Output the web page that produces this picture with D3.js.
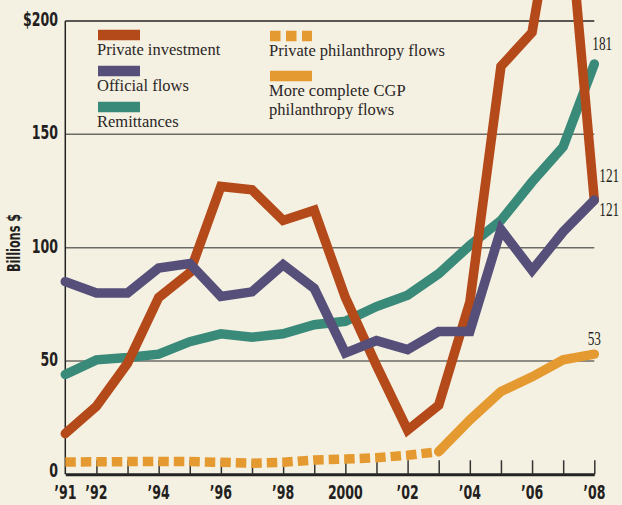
<!DOCTYPE html>
<html>
<head>
<meta charset="utf-8">
<script src="https://cdn.jsdelivr.net/npm/d3@7"></script>
<style>
  body { margin: 0; background: #f5f1e2; }
  svg { display: block; }
</style>
</head>
<body>
<div id="grafica"></div>
<script>
// datos (miles de millones de dolares)
years = [1991, 1992, 1993, 1994, 1995, 1996, 1997, 1998, 1999, 2000, 2001, 2002, 2003, 2004, 2005, 2006, 2007, 2008]
privateInvestment = [18, 30, 49, 78, 89, 127, 125.5, 112, 116.5, 78, 48, 19.5, 30.5, 76, 180, 195, 275, 121]
officialFlows = [85, 80, 80, 91, 93, 78.5, 80.5, 92.5, 82, 53.5, 59, 55, 63, 63, 108, 90, 107, 121]
remittances = [44, 50.5, 51.5, 53, 58.5, 62, 60.5, 62, 66, 67.5, 74, 79, 88.5, 101, 112, 129, 144.5, 181]
philanthropyYears = [1991, 1992, 1993, 1994, 1995, 1996, 1997, 1998, 1999, 2000, 2001, 2002, 2003]
privatePhilanthropy = [5.4, 5.5, 5.6, 5.7, 5.6, 5.3, 4.9, 5.3, 6.3, 6.7, 7.3, 8.4, 10]
cgpYears = [2003, 2004, 2005, 2006, 2007, 2008]
cgpPhilanthropy = [10, 24, 36.5, 43, 50.5, 53]

yTicks = [0, 50, 100, 150, 200]
xLabels = { 1991: '’91', 1992: '’92', 1994: '’94', 1996: '’96', 1998: '’98', 2000: '2000', 2002: '’02', 2004: '’04', 2006: '’06', 2008: '’08' }
legendNames = ['Private investment', 'Official flows', 'Remittances', 'Private philanthropy flows', ['More complete CGP', 'philanthropy flows']]
endLabels = [
  { serie: 'remittances', value: 181, text: '181' },
  { serie: 'private', value: 121, text: '121' },
  { serie: 'official', value: 121, text: '121' },
  { serie: 'cgp', value: 53, text: '53' }
]

colores = { private: '#b4491a', official: '#564f7a', remittances: '#3a8a79', philanthropy: '#e49a30' }
sansCond = "'Liberation Sans Narrow', 'DejaVu Sans Condensed', 'Liberation Sans', Arial, sans-serif"
serif = "'Liberation Serif', 'DejaVu Serif', serif"

ancho_total = 622
alto_total = 505

svg = d3
        .select('#grafica')
        .append('svg')
        .attr('width', ancho_total)
        .attr('height', alto_total)

x = d3.scaleLinear().domain([1991, 2008]).range([65.3, 594.3])
y = d3.scaleLinear().domain([0, 200]).range([474.3, 21])

// factor para estrechar la letra sin serifa (no hay fuente condensada segura)
prueba = svg.append('text')
            .attr('font-family', sansCond)
            .attr('font-weight', 'bold')
            .attr('font-size', '19px')
            .text('2000')
k = 35 / prueba.node().getComputedTextLength()
prueba.remove()

// rejilla horizontal
grid = svg.append('g')
grid.selectAll('line')
    .data(yTicks.filter((d) => d > 0))
    .enter()
    .append('line')
      .attr('x1', x(1991))
      .attr('x2', x(2008))
      .attr('y1', (d) => y(d))
      .attr('y2', (d) => y(d))
      .attr('stroke', (d) => d == 200 ? '#232323' : '#6a6a66')
      .attr('stroke-width', 1.5)

// etiquetas del eje Y
svg.append('g')
    .selectAll('text')
    .data(yTicks)
    .enter()
    .append('text')
      .attr('transform', (d) => `translate(58, ${y(d) + (d == 0 ? 3 : 5)}) scale(${k}, 1)`)
      .attr('text-anchor', 'end')
      .attr('font-family', sansCond)
      .attr('font-weight', 'bold')
      .attr('font-size', '19px')
      .attr('fill', '#231f20')
      .text((d) => d == 200 ? '$200' : d)

// linea vertical izquierda
svg.append('line')
    .attr('x1', x(1991)).attr('x2', x(1991))
    .attr('y1', y(200)).attr('y2', y(0))
    .attr('stroke', '#232323')
    .attr('stroke-width', 1.5)

// eje X con marcas hacia arriba
xAxisCall = d3
              .axisBottom(x)
              .tickValues(years.slice(1))
              .tickSizeInner(-14)
              .tickSizeOuter(0)
              .tickPadding(0)
              .tickFormat(() => '')
xGroup = svg.append('g')
            .attr('transform', `translate(0, ${y(0)})`)
            .call(xAxisCall)
xGroup.select('.domain')
      .attr('stroke', '#232323')
      .attr('stroke-width', 3)
xGroup.selectAll('.tick line')
      .attr('stroke', '#333')
      .attr('stroke-width', 1.5)

svg.append('g')
    .selectAll('text')
    .data(Object.keys(xLabels).map((d) => +d))
    .enter()
    .append('text')
      .attr('transform', (d) => `translate(${x(d)}, 499) scale(${k}, 1)`)
      .attr('text-anchor', 'middle')
      .attr('font-family', sansCond)
      .attr('font-weight', 'bold')
      .attr('font-size', '19px')
      .attr('fill', '#231f20')
      .text((d) => xLabels[d])

// titulo eje Y
svg.append('text')
    .attr('transform', `translate(20, 243) rotate(-90) scale(${k}, 1)`)
    .attr('text-anchor', 'middle')
    .attr('font-family', sansCond)
    .attr('font-weight', 'bold')
    .attr('font-size', '17px')
    .attr('fill', '#231f20')
    .text('Billions $')

// lineas
linea = d3.line()
          .x((d) => x(d[0]))
          .y((d) => y(d[1]))

series = [
  { key: 'remittances', data: d3.zip(years, remittances), color: colores.remittances, dash: null },
  { key: 'private', data: d3.zip(years, privateInvestment), color: colores.private, dash: null },
  { key: 'official', data: d3.zip(years, officialFlows), color: colores.official, dash: null },
  { key: 'philanthropy', data: d3.zip(philanthropyYears, privatePhilanthropy), color: colores.philanthropy, dash: '10.5,5' },
  { key: 'cgp', data: d3.zip(cgpYears, cgpPhilanthropy), color: colores.philanthropy, dash: null }
]

svg.append('g')
    .selectAll('path')
    .data(series)
    .enter()
    .append('path')
      .attr('d', (d) => linea(d.data))
      .attr('fill', 'none')
      .attr('stroke', (d) => d.color)
      .attr('stroke-width', 9.5)
      .attr('stroke-linejoin', 'miter')
      .attr('stroke-linecap', (d) => d.dash ? 'butt' : 'round')
      .attr('stroke-dasharray', (d) => d.dash)

// etiquetas finales (letra estrecha con scale, no textLength)
offsets = { remittances: [8, -14], private: [15, -18], official: [15, 16], cgp: [0, -9] }
svg.append('g')
    .selectAll('text')
    .data(endLabels)
    .enter()
    .append('text')
      .attr('transform', (d) => `translate(${x(2008) + offsets[d.serie][0]}, ${y(d.value) + offsets[d.serie][1]}) scale(0.68, 1)`)
      .attr('text-anchor', 'middle')
      .attr('font-family', serif)
      .attr('font-size', '19.5px')
      .attr('fill', '#231f20')
      .text((d) => d.text)

// leyenda
legend = [
  { name: legendNames[0], color: colores.private, dash: null, lx: 98, ly: 30 },
  { name: legendNames[1], color: colores.official, dash: null, lx: 98, ly: 66 },
  { name: legendNames[2], color: colores.remittances, dash: null, lx: 98, ly: 102 },
  { name: legendNames[3], color: colores.philanthropy, dash: '10.5,5.5', lx: 270, ly: 31 },
  { name: legendNames[4], color: colores.philanthropy, dash: null, lx: 270, ly: 71 }
]
leg = svg.append('g')
          .selectAll('g')
          .data(legend)
          .enter()
          .append('g')
            .attr('transform', (d) => `translate(${d.lx}, ${d.ly})`)
leg.append('line')
    .attr('x1', 0).attr('x2', 42)
    .attr('y1', 5).attr('y2', 5)
    .attr('stroke', (d) => d.color)
    .attr('stroke-width', 10.5)
    .attr('stroke-dasharray', (d) => d.dash)
leg.append('text')
    .attr('x', -1)
    .attr('y', 25)
    .attr('font-family', serif)
    .attr('font-size', '16.5px')
    .attr('fill', '#2a2626')
    .each(function (d) {
      lineas = Array.isArray(d.name) ? d.name : [d.name]
      d3.select(this)
        .selectAll('tspan')
        .data(lineas)
        .enter()
        .append('tspan')
          .attr('x', -1)
          .attr('dy', (t, i) => i == 0 ? 0 : 18.5)
          .text((t) => t)
    })
</script>
</body>
</html>
